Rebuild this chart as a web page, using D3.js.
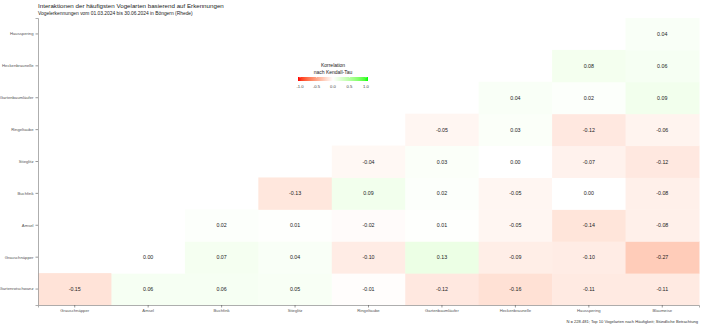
<!DOCTYPE html>
<html><head><meta charset="utf-8">
<script src="https://cdn.jsdelivr.net/npm/d3@7"></script>
<style>body{margin:0;background:#fff}text{font-family:"Liberation Sans",Arial,sans-serif}</style>
</head><body><svg id="c" width="703" height="327"></svg>
<script>
const xCats = ["Grauschnäpper","Amsel","Buchfink","Stieglitz","Ringeltaube","Gartenbaumläufer","Heckenbraunelle","Hausspering","Blaumeise"];
const yCats = ["Gartenrotschwanz","Grauschnäpper","Amsel","Buchfink","Stieglitz","Ringeltaube","Gartenbaumläufer","Heckenbraunelle","Hausspering"];
// values per row (y), aligned with xCats; null = empty
const rowHausspering      = [null,null,null,null,null,null,null,null,0.04];
const rowHeckenbraunelle  = [null,null,null,null,null,null,null,0.08,0.06];
const rowGartenbaumlaeufer= [null,null,null,null,null,null,0.04,0.02,0.09];
const rowRingeltaube      = [null,null,null,null,null,-0.05,0.03,-0.12,-0.06];
const rowStieglitz        = [null,null,null,null,-0.04,0.03,0.00,-0.07,-0.12];
const rowBuchfink         = [null,null,null,-0.13,0.09,0.02,-0.05,0.00,-0.08];
const rowAmsel            = [null,null,0.02,0.01,-0.02,0.01,-0.05,-0.14,-0.08];
const rowGrauschnaepper   = [null,0.00,0.07,0.04,-0.10,0.13,-0.09,-0.10,-0.27];
const rowGartenrotschwanz = [-0.15,0.06,0.06,0.05,-0.01,-0.12,-0.16,-0.11,-0.11];
const legendTicks = [-1.0,-0.5,0.0,0.5,1.0];

const rows = {"Hausspering":rowHausspering,"Heckenbraunelle":rowHeckenbraunelle,"Gartenbaumläufer":rowGartenbaumlaeufer,
  "Ringeltaube":rowRingeltaube,"Stieglitz":rowStieglitz,"Buchfink":rowBuchfink,"Amsel":rowAmsel,
  "Grauschnäpper":rowGrauschnaepper,"Gartenrotschwanz":rowGartenrotschwanz};
const data = [];
yCats.forEach(y => rows[y].forEach((v,i) => { if (v !== null) data.push({x:xCats[i], y, v}); }));

const svg = d3.select("#c");
const L=38, R=699, T=18, B=305;
const x = d3.scaleBand().domain(xCats).range([L,R]).padding(0);
const y = d3.scaleBand().domain(yCats).range([B,T]).padding(0);
const color = d3.scaleLinear().domain([-1,0,1]).range(["#ff0000","#ffffff","#00ff00"]).interpolate(d3.interpolateLab);

svg.append("g").selectAll("rect").data(data).join("rect")
  .attr("x",d=>x(d.x)).attr("y",d=>y(d.y)).attr("width",x.bandwidth()+0.5).attr("height",y.bandwidth()+0.5)
  .attr("fill",d=>color(d.v));
svg.append("g").selectAll("text").data(data).join("text")
  .attr("x",d=>x(d.x)+x.bandwidth()/2).attr("y",d=>y(d.y)+y.bandwidth()/2+2)
  .attr("text-anchor","middle").attr("font-size",5.3).attr("fill","#222")
  .text(d=>d3.format(".2f")(d.v).replace("−","-"));

const ax = svg.append("g").attr("transform",`translate(0,${B})`).call(d3.axisBottom(x).tickSize(2.5).tickPadding(2));
const ay = svg.append("g").attr("transform",`translate(${L},0)`).call(d3.axisLeft(y).tickSize(2.5).tickPadding(2));
[ax,ay].forEach(a=>{
  a.select(".domain").attr("stroke","#999").attr("stroke-width",0.8);
  a.selectAll(".tick line").attr("stroke","#555").attr("stroke-width",0.6);
  a.selectAll(".tick text").attr("font-size",4.2).attr("fill","#555").attr("font-family","Liberation Sans, Arial, sans-serif");
});

svg.append("text").attr("x",38).attr("y",8).attr("font-size",6.2).attr("fill","#222")
  .text("Interaktionen der häufigsten Vogelarten basierend auf Erkennungen");
svg.append("text").attr("x",38).attr("y",15).attr("font-size",4.9).attr("fill","#222")
  .text("Vogelerkennungen vom 01.03.2024 bis 30.06.2024 in Böngern (Rhede)");
svg.append("text").attr("x",698).attr("y",323).attr("text-anchor","end").attr("font-size",4.1).attr("fill","#333")
  .text("N = 228.481; Top 10 Vogelarten nach Häufigkeit; Stündliche Betrachtung");

// legend
const lg = svg.append("g");
const lx = d3.scaleLinear().domain([-1,1]).range([300,366]);
const grad = svg.append("defs").append("linearGradient").attr("id","lgrad");
d3.range(0,1.0001,0.05).forEach(t=>grad.append("stop").attr("offset",t).attr("stop-color",color(-1+2*t)));
lg.append("text").attr("x",333).attr("y",67).attr("text-anchor","middle").attr("font-size",5).attr("fill","#222").text("Korrelation");
lg.append("text").attr("x",333).attr("y",73.5).attr("text-anchor","middle").attr("font-size",5).attr("fill","#222").text("nach Kendall-Tau");
lg.append("rect").attr("x",298).attr("y",77).attr("width",70).attr("height",4).attr("fill","url(#lgrad)");
lg.selectAll("line").data(legendTicks).join("line").attr("x1",d=>lx(d)).attr("x2",d=>lx(d)).attr("y1",77).attr("y2",78).attr("stroke","#fff").attr("stroke-width",0.4);
lg.selectAll("text.t").data(legendTicks).join("text").attr("class","t").attr("x",d=>lx(d)).attr("y",87.5)
  .attr("text-anchor","middle").attr("font-size",4.2).attr("fill","#444").text(d=>d3.format(".1f")(d).replace("−","-"));
</script></body></html>
